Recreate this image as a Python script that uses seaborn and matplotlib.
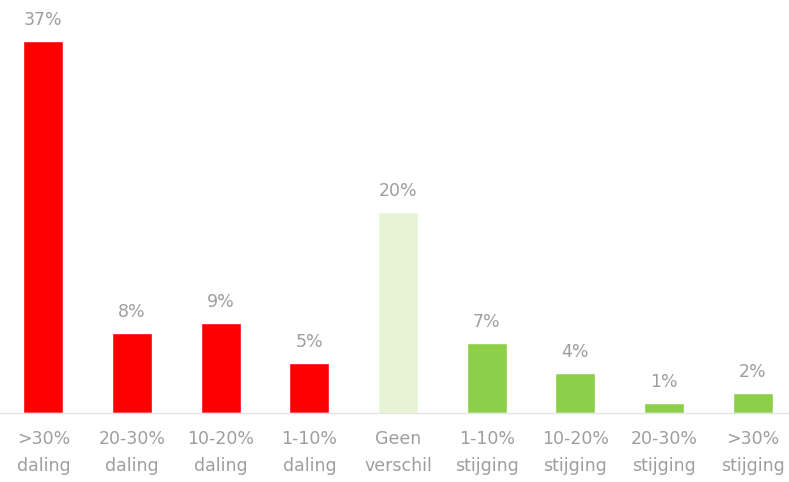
import matplotlib
matplotlib.use("Agg")
import matplotlib.pyplot as plt
import seaborn as sns
import pandas as pd

categories = [">30%\ndaling", "20-30%\ndaling", "10-20%\ndaling", "1-10%\ndaling",
              "Geen\nverschil", "1-10%\nstijging", "10-20%\nstijging", "20-30%\nstijging", ">30%\nstijging"]
values = [37, 8, 9, 5, 20, 7, 4, 1, 2]
value_labels = ["37%", "8%", "9%", "5%", "20%", "7%", "4%", "1%", "2%"]
colors = ["#FF0000"] * 4 + ["#E6F4D5"] + ["#8DCF48"] * 4

sns.set_style("white")
plt.rcParams['font.family'] = ['DejaVu Sans']

df = pd.DataFrame({"cat": categories, "val": values})

fig = plt.figure(figsize=(7.89, 4.82), dpi=100)
ax = fig.add_axes([0.0, 69 / 482, 1.0, 413 / 482])
sns.barplot(data=df, x="cat", y="val", hue="cat", palette=colors, width=0.45,
            legend=False, ax=ax, saturation=1)

ax.set_xlim(-0.49, 8.41)
ax.set_ylim(0, 41.1)
for s in ["top", "right", "left"]:
    ax.spines[s].set_visible(False)
ax.spines["bottom"].set_color("#E3E3E3")
ax.spines["bottom"].set_linewidth(1.0)
ax.set_yticks([])
ax.set_xlabel("")
ax.set_ylabel("")
ax.tick_params(axis="x", length=0, pad=12, labelsize=12.5, labelcolor="#9E9E9E")
for t in ax.get_xticklabels():
    t.set_linespacing(1.7)

for i, (v, lab) in enumerate(zip(values, value_labels)):
    ax.annotate(lab, (i, v), xytext=(0, 8.5), textcoords="offset points",
                ha="center", va="bottom", fontsize=12.5, color="#9E9E9E")

fig.savefig("out.png", dpi=100)
